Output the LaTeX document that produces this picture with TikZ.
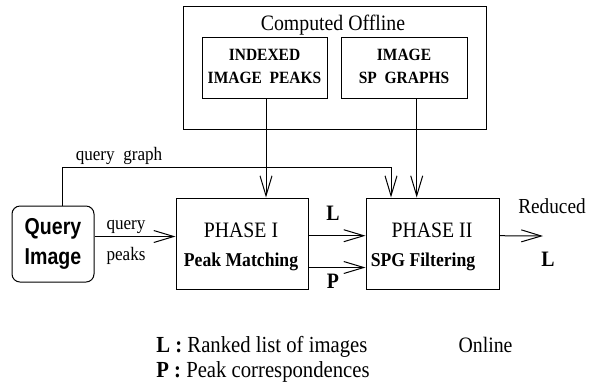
\documentclass[tikz,border=0pt]{standalone}
\usepackage{fontspec}
\setmainfont{Liberation Serif}[FakeStretch=0.9]
\newfontfamily\qsans{Liberation Sans}[FakeStretch=0.85]
\usetikzlibrary{arrows.meta}
\begin{document}
\begin{tikzpicture}[x=0.5pt,y=-0.5pt,
		box/.style={draw, line width=0.5pt, inner sep=0pt},
		arr/.style={-{Straight Barb[length=10pt,width=6pt]}, line width=0.5pt},
		txt/.style={inner sep=0pt, anchor=base, font=\fontsize{11}{13}\selectfont},
		small/.style={inner sep=0pt, anchor=base, font=\fontsize{9.5}{11}\selectfont}]
	\useasboundingbox (0,0) rectangle (597,387);
	% offline part
	\node[box, minimum width=151.5pt, minimum height=61.5pt] (off) at (334.5,67.5) {};
	\node[txt] (offt) at (333,30) {Computed Offline};
	\node[box, minimum width=62.5pt, minimum height=30.5pt] (idx) at (264.5,67.5) {};
	\node[box, minimum width=63pt, minimum height=30.5pt] (spg) at (404,67.5) {};
	\foreach \n\x\y\t in {idxa/264.5/60/INDEXED, idxb/264.5/83/IMAGE\ \ PEAKS,
		spga/404/60/IMAGE, spgb/404/83/SP\ \ GRAPHS}{
		\node[inner sep=0pt, anchor=base, font=\bfseries\fontsize{8.6}{10}\selectfont] (\n) at (\x,\y) {\t};
	}
	% online part
	\node[box, rounded corners=4pt, minimum width=41pt, minimum height=38pt, align=center,
		font=\qsans\bfseries\fontsize{11.5}{15}\selectfont] (qimg) at (53,244) {Query\\Image};
	\node[box, minimum width=66pt, minimum height=45.5pt] (ph1) at (242,243.5) {};
	\node[box, minimum width=66.5pt, minimum height=45.5pt] (ph2) at (432.5,243.5) {};
	\node[txt] (ph1a) at (241,237.5) {PHASE I};
	\node[small, font=\bfseries\fontsize{9.8}{11}\selectfont] (ph1b) at (241,266.5) {Peak Matching};
	\node[txt] (ph2a) at (432,237.5) {PHASE II};
	\node[small, font=\bfseries\fontsize{9.8}{11}\selectfont] (ph2b) at (423,266.5) {SPG Filtering};
	% connectors
	\coordinate (gtop) at (391,167);
	\coordinate (gin) at ([xshift=-20.75pt]ph2.north);
	\coordinate (out) at (543,236);
	\draw[arr] (idx.south -| 266,0) -- (ph1.north -| 266,0);
	\draw[arr] ([xshift=6.35pt]spg.south) -- ([xshift=6.35pt]spg.south |- ph2.north);
	\draw[arr] ([xshift=4.5pt]qimg.north) |- (gtop) -- (gin);
	\draw[arr] ([yshift=3.75pt]qimg.east) -- ([yshift=3.75pt]qimg.east -| ph1.west);
	\draw[arr] ([yshift=3.9pt]ph1.east) -- ([yshift=3.9pt]ph1.east -| ph2.west);
	\draw[arr] ([yshift=-12pt]ph1.east) -- ([yshift=-12pt]ph1.east -| ph2.west);
	\draw[arr] ([yshift=3.9pt]ph2.east) -- (out);
	% labels
	\node[small] (qg) at (119,160) {query\ \ graph};
	\node[small] (qq) at (126,229) {query};
	\node[small] (qp) at (126,260) {peaks};
	\node[txt, font=\bfseries\fontsize{11}{13}\selectfont] (lL) at (333,220) {L};
	\node[txt, font=\bfseries\fontsize{11}{13}\selectfont] (lP) at (333,288) {P};
	\node[txt, font=\fontsize{10.7}{13}\selectfont] (red) at (552,213) {Reduced};
	\node[txt, font=\bfseries\fontsize{11}{13}\selectfont] (rL) at (548,266.5) {L};
	% legend
	\node[txt, anchor=base west, font=\fontsize{11.5}{13}\selectfont] (legL) at (156,352) {\textbf{L :} Ranked list of images};
	\node[txt, anchor=base west, font=\fontsize{11.5}{13}\selectfont] (legP) at (156,377) {\textbf{P :} Peak correspondences};
	\node[txt, font=\fontsize{11}{13}\selectfont] (onl) at (485.5,352) {Online};
\end{tikzpicture}
\end{document}
